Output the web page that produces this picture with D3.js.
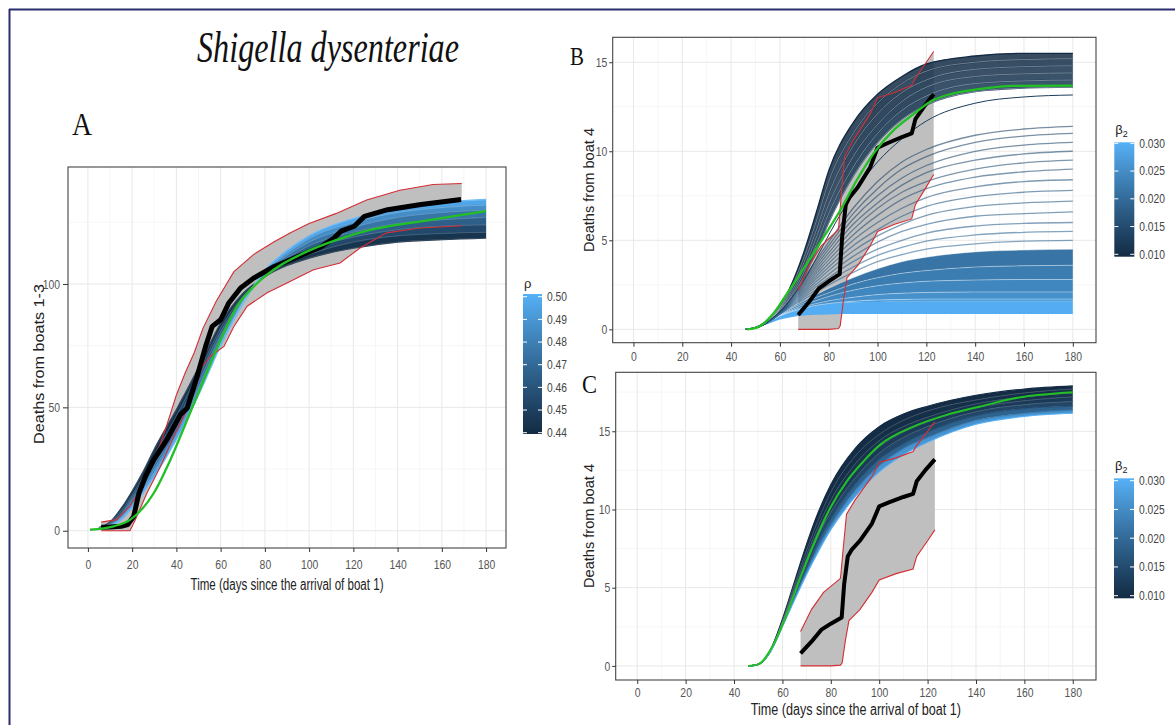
<!DOCTYPE html>
<html>
<head>
<meta charset="utf-8">
<script src="https://cdn.jsdelivr.net/npm/d3@7"></script>
<style>
  body { margin: 0; background: #fff; }
  svg { display: block; }
</style>
</head>
<body>
<div id="chart"></div>
<script>
// ---------- data ----------
const xTicks = [0, 20, 40, 60, 80, 100, 120, 140, 160, 180];
const xMinor = [10, 30, 50, 70, 90, 110, 130, 150, 170];

// panel A : boats 1-3
const tA = [5, 10, 15, 20, 25, 30, 40, 50, 60, 70, 80, 90, 100, 120, 140, 160, 180];
const rhoVals = [0.44, 0.45, 0.46, 0.47, 0.48, 0.49, 0.50];
const fanA = [
  [1.2, 3.5, 9, 16, 24, 33, 49, 66, 84, 96, 103, 107.5, 110.5, 114.5, 117, 118, 118.6],
  [1.0, 3.0, 8, 14.5, 22, 30.5, 46.5, 64, 82, 95, 103, 108.5, 112, 117, 119.5, 120.5, 121],
  [0.9, 2.7, 7, 13.5, 20.5, 28.5, 44, 62, 80.5, 94, 103.5, 109.5, 114, 119, 122, 123.5, 124],
  [0.8, 2.4, 6.3, 12.5, 19, 26.5, 42, 60, 79, 93.5, 104, 110.5, 115.5, 121, 124.5, 126, 127],
  [0.7, 2.1, 5.6, 11.5, 17.5, 25, 40, 58, 77.5, 93, 104.5, 111.5, 117, 123, 127, 129, 130],
  [0.6, 1.9, 5, 10.5, 16.5, 23.5, 38.5, 56.5, 76, 92.5, 105, 112.5, 118.5, 125, 129, 131, 132],
  [0.5, 1.6, 4.5, 9.5, 15.5, 22, 37, 55, 75, 92, 105.5, 113.5, 119.5, 126.5, 131, 133, 134.2]
];
const obsADays = [6, 10, 15, 18, 20.7, 23, 26, 29.8, 35.8, 41.8, 44.9, 49.4, 53.2, 56.2, 60, 63.7, 69, 75, 84, 94.7, 105.3, 111.3, 114.4, 120.4, 125, 135.5, 150.6, 168.7];
const obsAVals = [1.4, 1.5, 1.8, 2.5, 5.8, 15, 22, 28.8, 37, 47, 49.7, 62.6, 74.7, 82.8, 85.5, 92.3, 98.4, 102.4, 107, 111, 115, 118.6, 121.4, 123.4, 127.4, 130.1, 132.2, 134.2];
const upADays = [6, 13, 19, 24, 30, 35, 40, 44, 48, 52, 58, 66, 75, 84, 92, 100, 112, 126, 141, 156, 169];
const upAVals = [3.5, 4.5, 10, 17, 28, 41, 55, 64, 72, 82, 93, 105, 112, 117, 121, 124.5, 128.5, 134, 138, 140.3, 140.7];
const loADays = [6, 19, 21.5, 26.7, 32.8, 38.8, 43.4, 47.9, 51.7, 55.4, 61.5, 66, 72, 81, 90, 102, 114, 123, 135, 150, 169];
const loAVals = [0, 0, 4.5, 15.3, 26, 38.2, 46.4, 55.8, 66.6, 70.7, 74.7, 82.8, 91, 96.4, 100.4, 105.8, 108.5, 114.6, 120.7, 122.7, 123.6];
const fitADays = [1, 11.6, 19.2, 29.8, 37.3, 44.9, 52.4, 60, 67.5, 75, 84, 97.7, 112.8, 128, 150.6, 180];
const fitAVals = [0.4, 1.8, 4.5, 15.3, 28.8, 45, 61.2, 77.4, 91, 99, 105.8, 112.6, 118, 122, 125.4, 129.5];

// boat 4 observations (panels B and C)
const obsDays = [67.5, 72, 76, 80, 84.5, 85.5, 87, 88.5, 92, 97, 100, 104, 110, 114, 115.5, 119, 123];
const obsVals = [0.8, 1.55, 2.3, 2.7, 3.1, 5.2, 7.0, 7.4, 8.0, 9.1, 10.2, 10.45, 10.8, 11.0, 11.8, 12.5, 13.2];
const upDays = [67.5, 72, 77, 84, 85, 86.5, 90, 97, 100, 107, 114, 115.5, 119, 123];
const upVals = [2.2, 3.6, 4.7, 5.6, 7.3, 9.7, 10.6, 12.1, 13.0, 13.3, 13.7, 14.1, 14.8, 15.6];
const loDays = [67.5, 80, 84, 84.7, 86, 87.5, 92, 97, 100, 107, 114, 115.5, 120, 123];
const loVals = [0, 0, 0.05, 0.2, 1.6, 2.9, 3.6, 4.7, 5.5, 5.9, 6.2, 7.0, 8.0, 8.7];

// panel B : simulated curves grouped by beta2
const tB = [46, 50, 55, 60, 65, 70, 75, 80, 90, 100, 110, 120, 140, 160, 180];
const betaDark = [0.010, 0.0105, 0.011, 0.0115, 0.012, 0.0125];
const fanBDark = [
  [0, 0.1, 0.5, 1.3, 2.6, 4.4, 6.6, 8.9, 11.6, 13.2, 14.2, 14.9, 15.35, 15.5, 15.5],
  [0, 0.1, 0.5, 1.25, 2.45, 4.1, 6.1, 8.3, 11.0, 12.7, 13.8, 14.5, 15.0, 15.15, 15.2],
  [0, 0.1, 0.5, 1.2, 2.3, 3.8, 5.6, 7.6, 10.3, 12.1, 13.3, 14.0, 14.6, 14.75, 14.8],
  [0, 0.1, 0.45, 1.15, 2.15, 3.5, 5.2, 7.0, 9.7, 11.5, 12.8, 13.6, 14.2, 14.35, 14.4],
  [0, 0.1, 0.45, 1.1, 2.0, 3.25, 4.8, 6.5, 9.1, 11.0, 12.3, 13.1, 13.8, 13.95, 14.0],
  [0, 0.1, 0.45, 1.05, 1.9, 3.0, 4.4, 6.0, 8.6, 10.5, 11.8, 12.6, 13.35, 13.55, 13.6]
];
const betaLone = [0.013];
const fanBLone = [
  [0, 0.1, 0.45, 1.0, 1.8, 2.8, 4.0, 5.3, 7.6, 9.4, 10.7, 11.7, 12.7, 13.05, 13.16]
];
const betaMid = [0.014, 0.0145, 0.015, 0.0155, 0.016, 0.0165, 0.017, 0.0175, 0.018, 0.0185, 0.019, 0.0195, 0.020];
const fanBMid = [
  [0, 0.08, 0.4, 1.0, 1.9, 2.9, 3.9, 4.9, 6.8, 8.3, 9.4, 10.1, 10.9, 11.25, 11.4],
  [0, 0.08, 0.4, 1.0, 1.85, 2.8, 3.75, 4.7, 6.5, 7.9, 9.0, 9.7, 10.5, 10.85, 11.0],
  [0, 0.08, 0.4, 0.95, 1.8, 2.7, 3.6, 4.5, 6.2, 7.5, 8.5, 9.2, 10.0, 10.35, 10.5],
  [0, 0.08, 0.4, 0.95, 1.75, 2.6, 3.45, 4.3, 5.9, 7.1, 8.1, 8.8, 9.5, 9.85, 10.0],
  [0, 0.08, 0.4, 0.95, 1.7, 2.5, 3.3, 4.1, 5.6, 6.8, 7.7, 8.3, 9.0, 9.35, 9.5],
  [0, 0.08, 0.4, 0.9, 1.65, 2.4, 3.15, 3.9, 5.3, 6.4, 7.3, 7.9, 8.55, 8.85, 9.0],
  [0, 0.08, 0.4, 0.9, 1.6, 2.3, 3.0, 3.7, 5.0, 6.0, 6.8, 7.4, 8.0, 8.3, 8.4],
  [0, 0.08, 0.4, 0.9, 1.55, 2.2, 2.85, 3.5, 4.7, 5.6, 6.35, 6.9, 7.45, 7.7, 7.8],
  [0, 0.08, 0.4, 0.9, 1.5, 2.1, 2.7, 3.3, 4.4, 5.25, 5.9, 6.4, 6.9, 7.1, 7.2],
  [0, 0.08, 0.4, 0.88, 1.45, 2.0, 2.55, 3.1, 4.1, 4.9, 5.5, 5.9, 6.35, 6.5, 6.6],
  [0, 0.08, 0.4, 0.87, 1.4, 1.9, 2.4, 2.9, 3.8, 4.5, 5.0, 5.4, 5.8, 5.95, 6.0],
  [0, 0.08, 0.4, 0.86, 1.35, 1.8, 2.25, 2.7, 3.5, 4.15, 4.6, 4.95, 5.3, 5.45, 5.5],
  [0, 0.08, 0.4, 0.85, 1.3, 1.7, 2.1, 2.5, 3.2, 3.8, 4.2, 4.5, 4.8, 4.95, 5.0]
];
const betaLow = [0.021, 0.022, 0.0235, 0.025, 0.026, 0.029, 0.030];
const fanBLow = [
  [0, 0.08, 0.4, 0.85, 1.25, 1.6, 1.95, 2.3, 2.9, 3.4, 3.8, 4.05, 4.35, 4.45, 4.5],
  [0, 0.08, 0.4, 0.82, 1.2, 1.5, 1.8, 2.05, 2.55, 2.9, 3.15, 3.3, 3.5, 3.57, 3.6],
  [0, 0.08, 0.4, 0.8, 1.12, 1.4, 1.62, 1.85, 2.2, 2.45, 2.6, 2.7, 2.77, 2.8, 2.8],
  [0, 0.08, 0.4, 0.78, 1.05, 1.28, 1.45, 1.6, 1.8, 1.95, 2.03, 2.07, 2.1, 2.1, 2.1],
  [0, 0.08, 0.39, 0.76, 1.0, 1.2, 1.35, 1.45, 1.58, 1.65, 1.68, 1.7, 1.7, 1.7, 1.7],
  [0, 0.08, 0.38, 0.75, 1.0, 1.2, 1.35, 1.45, 1.52, 1.54, 1.55, 1.55, 1.55, 1.55, 1.55],
  [0, 0.06, 0.3, 0.55, 0.7, 0.78, 0.82, 0.84, 0.86, 0.86, 0.86, 0.86, 0.86, 0.86, 0.86]
];
const fitBDays = [46.5, 50.6, 57.4, 62.9, 71.1, 78, 84.8, 91.6, 98.5, 106.7, 114.9, 121.7, 128.6, 142.3, 156, 180];
const fitBVals = [0, 0.1, 0.9, 2.0, 3.7, 5.2, 6.7, 8.4, 9.9, 11.2, 12.1, 12.8, 13.16, 13.5, 13.67, 13.69];

// panel C
const tC = [46, 50, 55, 60, 65, 70, 75, 80, 90, 100, 110, 120, 140, 160, 180];
const betaC = [0.010, 0.0105, 0.011, 0.012, 0.013, 0.016, 0.022, 0.030];
const fanC = [
  [0, 0.1, 1.0, 3.0, 5.4, 7.8, 9.9, 11.6, 13.9, 15.3, 16.1, 16.6, 17.3, 17.7, 17.9],
  [0, 0.1, 1.0, 2.9, 5.2, 7.4, 9.4, 11.1, 13.4, 14.8, 15.7, 16.3, 17.0, 17.45, 17.7],
  [0, 0.1, 0.95, 2.8, 5.0, 7.1, 9.0, 10.6, 12.9, 14.4, 15.3, 15.9, 16.75, 17.2, 17.45],
  [0, 0.1, 0.95, 2.75, 4.85, 6.85, 8.7, 10.2, 12.5, 14.0, 14.95, 15.6, 16.5, 16.95, 17.2],
  [0, 0.1, 0.95, 2.7, 4.7, 6.6, 8.4, 9.8, 12.0, 13.6, 14.6, 15.3, 16.25, 16.7, 16.9],
  [0, 0.1, 0.9, 2.6, 4.5, 6.3, 8.0, 9.4, 11.6, 13.2, 14.2, 14.95, 16.0, 16.45, 16.6],
  [0, 0.1, 0.9, 2.55, 4.35, 6.05, 7.65, 9.0, 11.2, 12.8, 13.9, 14.6, 15.7, 16.15, 16.35],
  [0, 0.1, 0.9, 2.5, 4.2, 5.85, 7.35, 8.7, 10.8, 12.4, 13.5, 14.3, 15.45, 15.95, 16.15]
];
const fitCDays = [45.9, 50, 56.2, 61.7, 67.3, 72.8, 79.7, 86.6, 93.4, 100.3, 114.1, 127.9, 141.7, 155.5, 180];
const fitCVals = [0, 0.1, 1.34, 3.26, 5.6, 7.73, 10.08, 11.8, 13.06, 14.13, 15.3, 16.05, 16.58, 17.1, 17.5];

const rhoTicks = [0.44, 0.45, 0.46, 0.47, 0.48, 0.49, 0.50];
const betaTicks = [0.010, 0.015, 0.020, 0.025, 0.030];

// ---------- drawing ----------
const svg = d3.select("#chart").append("svg")
    .attr("width", 1175)
    .attr("height", 725);
const defs = svg.append("defs");

const lowCol = "#132B43", highCol = "#56B1F7";
const colRho = d3.scaleLinear().domain([0.44, 0.50]).range([lowCol, highCol]).interpolate(d3.interpolateLab);
const colBeta = d3.scaleLinear().domain([0.010, 0.030]).range([lowCol, highCol]).interpolate(d3.interpolateLab);
const white = () => "#ffffff";

const sans = "'Liberation Sans', Arial, sans-serif";
const serif = "'Liberation Serif', 'Times New Roman', serif";

function narrow(sel, k) {
    sel.each(function () {
        const w = this.getComputedTextLength();
        d3.select(this).attr("textLength", w * k).attr("lengthAdjust", "spacingAndGlyphs");
    });
}

// outer frame (left and top only)
svg.append("line").attr("x1", 9.5).attr("x2", 9.5).attr("y1", 9).attr("y2", 725)
    .attr("stroke", "#2b2d6e").attr("stroke-width", 2);
svg.append("line").attr("x1", 9).attr("x2", 1175).attr("y1", 9.5).attr("y2", 9.5)
    .attr("stroke", "#2b2d6e").attr("stroke-width", 2);

function makePanel(o) {
    const x = d3.scaleLinear().domain(o.xDom).range([o.l, o.r]);
    const y = d3.scaleLinear().domain(o.yDom).range([o.b, o.t]);
    const g = svg.append("g");
    const cid = "clip" + o.id;
    defs.append("clipPath").attr("id", cid).append("rect")
        .attr("x", o.l).attr("y", o.t).attr("width", o.r - o.l).attr("height", o.b - o.t);

    g.selectAll(".vmin").data(xMinor).join("line")
        .attr("x1", d => x(d)).attr("x2", d => x(d)).attr("y1", o.t).attr("y2", o.b)
        .attr("stroke", "#f0f0f0").attr("stroke-width", 0.6);
    g.selectAll(".hmin").data(o.yMinor).join("line")
        .attr("x1", o.l).attr("x2", o.r).attr("y1", d => y(d)).attr("y2", d => y(d))
        .attr("stroke", "#f0f0f0").attr("stroke-width", 0.6);
    g.selectAll(".vmaj").data(xTicks).join("line")
        .attr("x1", d => x(d)).attr("x2", d => x(d)).attr("y1", o.t).attr("y2", o.b)
        .attr("stroke", "#e8e8e8").attr("stroke-width", 1);
    g.selectAll(".hmaj").data(o.yTicks).join("line")
        .attr("x1", o.l).attr("x2", o.r).attr("y1", d => y(d)).attr("y2", d => y(d))
        .attr("stroke", "#e8e8e8").attr("stroke-width", 1);

    const plot = g.append("g").attr("clip-path", `url(#${cid})`);
    return { x, y, g, plot, o };
}

function finishPanel(p) {
    const o = p.o;
    p.g.append("rect").attr("x", o.l).attr("y", o.t).attr("width", o.r - o.l).attr("height", o.b - o.t)
        .attr("fill", "none").attr("stroke", "#444").attr("stroke-width", 1.1);

    const ax = p.g.append("g")
        .attr("transform", `translate(0,${o.b})`)
        .call(d3.axisBottom(p.x).tickValues(xTicks).tickSize(4).tickPadding(o.xPad));
    const ay = p.g.append("g")
        .attr("transform", `translate(${o.l},0)`)
        .call(d3.axisLeft(p.y).tickValues(o.yTicks).tickSize(o.yTick).tickPadding(o.yPad));
    [ax, ay].forEach(a => {
        a.attr("font-family", sans).attr("font-size", 13);
        a.select(".domain").remove();
        a.selectAll("line").attr("stroke", "#333");
        a.selectAll("text").attr("fill", "#555");
        narrow(a.selectAll("text"), 0.8);
    });

    if (o.xTitle) {
        p.g.append("text")
            .attr("x", (o.l + o.r) / 2).attr("y", o.xTitleY)
            .attr("text-anchor", "middle")
            .attr("font-family", sans).attr("font-size", 16).attr("fill", "#222")
            .attr("textLength", o.xTitleLen).attr("lengthAdjust", "spacingAndGlyphs")
            .text("Time (days since the arrival of boat 1)");
    }
    p.g.append("text")
        .attr("transform", "rotate(-90)")
        .attr("x", -o.yTitleCY).attr("y", o.yTitleX)
        .attr("text-anchor", "middle")
        .attr("font-family", sans).attr("font-size", o.yTitleSize).attr("fill", "#222")
        .attr("textLength", o.yTitleLen).attr("lengthAdjust", "spacingAndGlyphs")
        .text(o.yTitle);
}

function pts(days, vals) {
    return days.map((d, i) => [d, vals[i]]);
}

function drawBands(p, days, curves, params, col, opacity) {
    const area = d3.area()
        .x((d, i) => p.x(days[i]))
        .y0(d => p.y(d[0]))
        .y1(d => p.y(d[1]))
        .curve(d3.curveMonotoneX);
    for (let k = 0; k < curves.length - 1; k++) {
        const pair = curves[k].map((v, i) => [v, curves[k + 1][i]]);
        p.plot.append("path")
            .attr("d", area(pair))
            .attr("fill", col((params[k] + params[k + 1]) / 2))
            .attr("opacity", opacity);
    }
}

function drawCurves(p, days, curves, params, col, width, opacity) {
    const line = d3.line()
        .x((d, i) => p.x(days[i]))
        .y(d => p.y(d))
        .curve(d3.curveMonotoneX);
    curves.forEach((c, k) => {
        p.plot.append("path")
            .attr("d", line(c))
            .attr("fill", "none")
            .attr("stroke", col(params[k]))
            .attr("stroke-width", width)
            .attr("opacity", opacity);
    });
}

function drawRibbon(p, uD, uV, lD, lV) {
    const up = pts(uD, uV), lo = pts(lD, lV);
    const line = d3.line().x(d => p.x(d[0])).y(d => p.y(d[1]));
    p.plot.append("path")
        .attr("d", line(up.concat(lo.slice().reverse())) + "Z")
        .attr("fill", "#bfbfbf");
    return { up, lo, line };
}

function drawRibbonEdges(p, rib) {
    [rib.up, rib.lo].forEach(d => {
        p.plot.append("path").attr("d", rib.line(d))
            .attr("fill", "none").attr("stroke", "#d42e34").attr("stroke-width", 1.1);
    });
}

function drawObserved(p, days, vals, width) {
    const line = d3.line().x(d => p.x(d[0])).y(d => p.y(d[1]));
    p.plot.append("path").attr("d", line(pts(days, vals)))
        .attr("fill", "none").attr("stroke", "#000").attr("stroke-width", width)
        .attr("stroke-linejoin", "round");
}

function drawFit(p, days, vals, width) {
    const line = d3.line().x(d => p.x(d[0])).y(d => p.y(d[1])).curve(d3.curveMonotoneX);
    p.plot.append("path").attr("d", line(pts(days, vals)))
        .attr("fill", "none").attr("stroke", "#22c024").attr("stroke-width", width);
}

function colorbar(o) {
    const gid = "grad" + o.id;
    const grad = defs.append("linearGradient").attr("id", gid)
        .attr("x1", 0).attr("y1", 1).attr("x2", 0).attr("y2", 0);
    d3.range(0, 1.0001, 0.1).forEach(t => {
        grad.append("stop").attr("offset", t).attr("stop-color", d3.interpolateLab(lowCol, highCol)(t));
    });
    const s = d3.scaleLinear().domain(o.domain).range([o.y1, o.y0]);
    const g = svg.append("g");
    g.append("rect").attr("x", o.x).attr("y", o.top).attr("width", o.w).attr("height", o.bottom - o.top)
        .attr("fill", `url(#${gid})`);
    g.selectAll(".tl").data(o.ticks).join("line")
        .attr("x1", o.x).attr("x2", o.x + 4).attr("y1", d => s(d)).attr("y2", d => s(d))
        .attr("stroke", "#fff").attr("stroke-width", 1);
    g.selectAll(".tr").data(o.ticks).join("line")
        .attr("x1", o.x + o.w - 4).attr("x2", o.x + o.w).attr("y1", d => s(d)).attr("y2", d => s(d))
        .attr("stroke", "#fff").attr("stroke-width", 1);
    const labels = g.selectAll(".lab").data(o.ticks).join("text")
        .attr("x", o.x + o.w + 5).attr("y", d => s(d)).attr("dy", "0.35em")
        .attr("font-family", sans).attr("font-size", 12.5).attr("fill", "#444")
        .text(d => d3.format(o.fmt)(d));
    narrow(labels, 0.82);
    const t = g.append("text").attr("x", o.x + 1).attr("y", o.titleY)
        .attr("font-family", sans).attr("font-size", 13).attr("fill", "#222");
    t.append("tspan").text(o.title);
    if (o.sub) t.append("tspan").attr("font-size", 9).attr("dy", 3).text(o.sub);
}

// ---------- panel A ----------
const pA = makePanel({
    id: "A", l: 68, r: 506, t: 167, b: 548,
    xDom: [-9, 189], yDom: [-7, 147.4],
    yTicks: [0, 50, 100], yMinor: [25, 75, 125],
    xPad: 8, yTick: 5, yPad: 3,
    xTitle: true, xTitleY: 590, xTitleLen: 193,
    yTitle: "Deaths from boats 1-3", yTitleX: 44, yTitleCY: 364, yTitleLen: 160, yTitleSize: 15
});
const ribA = drawRibbon(pA, upADays, upAVals, loADays, loAVals);
drawBands(pA, tA, fanA, rhoVals, colRho, 1);
drawCurves(pA, tA, fanA, rhoVals, colRho, 1.4, 1);
drawCurves(pA, tA, fanA, rhoVals, white, 0.5, 0.35);
drawRibbonEdges(pA, ribA);
drawObserved(pA, obsADays, obsAVals, 5);
drawFit(pA, fitADays, fitAVals, 2.3);
finishPanel(pA);

// ---------- panel B ----------
const pB = makePanel({
    id: "B", l: 612.7, r: 1096, t: 37.3, b: 342.7,
    xDom: [-8.5, 189.5], yDom: [-0.75, 16.4],
    yTicks: [0, 5, 10, 15], yMinor: [2.5, 7.5, 12.5],
    xPad: 5, yTick: 3.5, yPad: 2,
    xTitle: false,
    yTitle: "Deaths from boat 4", yTitleX: 594, yTitleCY: 190, yTitleLen: 124, yTitleSize: 14
});
const ribB = drawRibbon(pB, upDays, upVals, loDays, loVals);
drawBands(pB, tB, fanBLow, betaLow, colBeta, 1);
drawCurves(pB, tB, fanBLow.slice(0, 5), betaLow, white, 0.7, 0.55);
drawCurves(pB, tB, fanBMid, betaMid, colBeta, 1.3, 0.6);
drawBands(pB, tB, fanBDark, betaDark, colBeta, 0.85);
drawCurves(pB, tB, fanBDark, betaDark, colBeta, 1.4, 1);
drawCurves(pB, tB, fanBDark.slice(1), betaDark, white, 0.8, 0.5);
drawCurves(pB, tB, fanBLone, betaLone, colBeta, 1, 1);
drawRibbonEdges(pB, ribB);
drawObserved(pB, obsDays, obsVals, 4);
drawFit(pB, fitBDays, fitBVals, 2.3);
finishPanel(pB);

// ---------- panel C ----------
const pC = makePanel({
    id: "C", l: 615.7, r: 1096, t: 372.3, b: 680,
    xDom: [-8.9, 189.6], yDom: [-0.9, 18.77],
    yTicks: [0, 5, 10, 15], yMinor: [2.5, 7.5, 12.5, 17.5],
    xPad: 4, yTick: 3.5, yPad: 2,
    xTitle: true, xTitleY: 715, xTitleLen: 210,
    yTitle: "Deaths from boat 4", yTitleX: 594, yTitleCY: 526, yTitleLen: 124, yTitleSize: 14
});
const ribC = drawRibbon(pC, upDays, upVals, loDays, loVals);
drawBands(pC, tC, fanC, betaC, colBeta, 1);
drawCurves(pC, tC, fanC, betaC, colBeta, 1.1, 1);
drawCurves(pC, tC, fanC.slice(1, 5), betaC, white, 0.6, 0.3);
drawRibbonEdges(pC, ribC);
drawObserved(pC, obsDays, obsVals, 4);
drawFit(pC, fitCDays, fitCVals, 2);
finishPanel(pC);

// ---------- legends ----------
colorbar({ id: "A", x: 523, w: 19, top: 294, bottom: 434, y0: 296.7, y1: 432.7,
    domain: [0.44, 0.50], ticks: rhoTicks, fmt: ".2f", title: "\u03c1", titleY: 288 });
colorbar({ id: "B", x: 1114.3, w: 20, top: 142.3, bottom: 256.7, y0: 143.3, y1: 254.3,
    domain: [0.010, 0.030], ticks: betaTicks, fmt: ".3f", title: "\u03b2", sub: "2", titleY: 134 });
colorbar({ id: "C", x: 1114, w: 20, top: 478.3, bottom: 598.3, y0: 480.7, y1: 595.7,
    domain: [0.010, 0.030], ticks: betaTicks, fmt: ".3f", title: "\u03b2", sub: "2", titleY: 470 });

// ---------- titles ----------
svg.append("text")
    .attr("x", 197).attr("y", 62)
    .attr("font-family", serif).attr("font-style", "italic").attr("font-size", 44)
    .attr("fill", "#111")
    .attr("textLength", 262).attr("lengthAdjust", "spacingAndGlyphs")
    .text("Shigella dysenteriae");

const letters = [
    { t: "A", x: 72, y: 135, size: 32, len: 20 },
    { t: "B", x: 570, y: 65, size: 25, len: 14 },
    { t: "C", x: 582, y: 393, size: 25, len: 15 }
];
svg.selectAll(".letter").data(letters).join("text")
    .attr("x", d => d.x).attr("y", d => d.y)
    .attr("font-family", serif).attr("font-size", d => d.size).attr("fill", "#111")
    .attr("textLength", d => d.len).attr("lengthAdjust", "spacingAndGlyphs")
    .text(d => d.t);
</script>
</body>
</html>
